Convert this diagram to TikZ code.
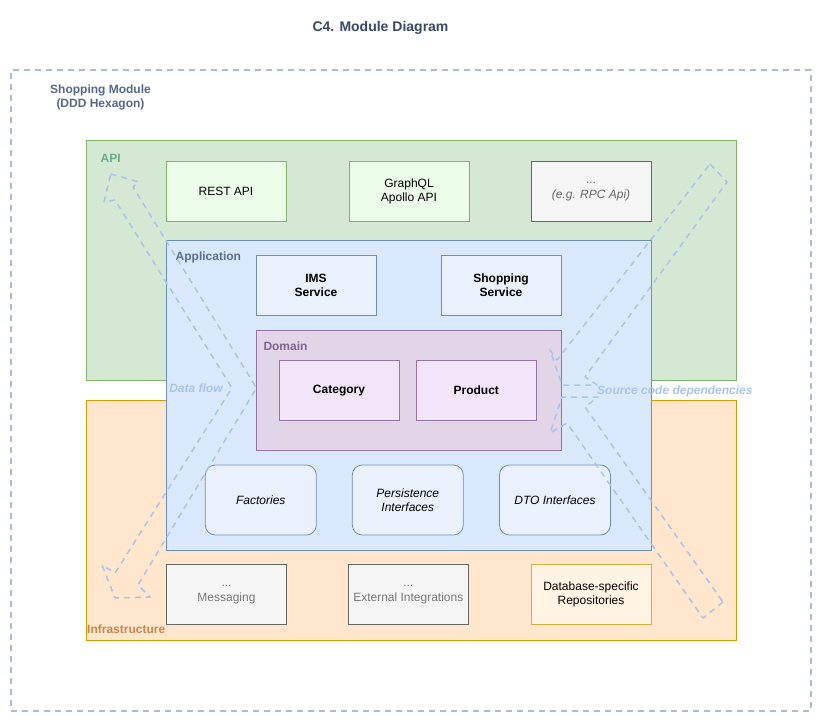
\documentclass[tikz,border=0pt]{standalone}
\usepackage{fontspec}
\setmainfont{Liberation Sans}
\definecolor{frameblue}{HTML}{AABBD8}
\definecolor{arrowblue}{HTML}{A9C4EB}
\definecolor{titlecol}{HTML}{3A4862}
\definecolor{modcol}{HTML}{56688A}
\definecolor{apifill}{HTML}{D5E8D4}
\definecolor{apistroke}{HTML}{82B366}
\definecolor{apilabel}{HTML}{6AAA8C}
\definecolor{infrafill}{HTML}{FFE6CC}
\definecolor{infrastroke}{HTML}{D79B00}
\definecolor{infralabel}{HTML}{C88750}
\definecolor{appfill}{HTML}{DAE8FC}
\definecolor{appstroke}{HTML}{6C8EBF}
\definecolor{applabel}{HTML}{5A6E96}
\definecolor{domfill}{HTML}{E1D5E7}
\definecolor{domstroke}{HTML}{9673A6}
\definecolor{domlabel}{HTML}{7D6491}
\definecolor{greenbox}{HTML}{EBFDE8}
\definecolor{bluebox}{HTML}{EAF1FD}
\definecolor{purplebox}{HTML}{F2E5F9}
\definecolor{graybox}{HTML}{F5F5F5}
\definecolor{graystroke}{HTML}{666666}
\definecolor{graytext}{HTML}{777777}
\definecolor{yellowbox}{HTML}{FFF3E4}
\definecolor{yellowstroke}{HTML}{D6AE3A}
\begin{document}
\begin{tikzpicture}[x=1pt,y=-1pt,
  every node/.style={font=\fontsize{12}{14.4}\selectfont, inner sep=0pt, align=center},
  container/.style={draw, line width=0.8pt, anchor=center},
  box/.style={draw, line width=0.8pt, minimum width=120pt, minimum height=60pt},
  apibox/.style={box, fill=greenbox, draw=apistroke},
  svcbox/.style={box, fill=bluebox, draw=appstroke, font=\fontsize{12}{14.4}\selectfont\bfseries},
  entbox/.style={box, fill=purplebox, draw=domstroke, font=\fontsize{12}{14.4}\selectfont\bfseries},
  ifbox/.style={draw=appstroke, fill=bluebox, line width=0.8pt, rounded corners=10pt, minimum width=111pt, minimum height=70pt, font=\fontsize{12}{14.4}\selectfont\itshape},
  grbox/.style={box, fill=graybox, draw=graystroke, text=graytext},
  lbl/.style={anchor=west, font=\fontsize{12}{14.4}\selectfont\bfseries},
  flow/.style={draw=arrowblue, line width=1.5pt, dash pattern=on 6pt off 5pt, line join=round},
  flowlbl/.style={text=arrowblue, font=\fontsize{12}{14.4}\selectfont\bfseries\itshape}
]
\useasboundingbox (0,0) rectangle (822,722);
\fill[white] (0,0) rectangle (822,722);

% title and module frame
\node[font=\fontsize{14}{16}\selectfont\bfseries, text=titlecol] (title) at (380.5,28) {C4. Module Diagram};
\node[draw=frameblue, line width=1.5pt, dash pattern=on 6pt off 5pt, minimum width=800pt, minimum height=641pt] (frame) at (411,390.5) {};
\node[font=\fontsize{12}{14.4}\selectfont\bfseries, text=modcol] (modlbl) at (100.5,97.5) {Shopping Module\\(DDD Hexagon)};

% layers
\node[container, fill=apifill, draw=apistroke, minimum width=650pt, minimum height=240pt] (api) at (411,260) {};
\node[container, fill=infrafill, draw=infrastroke, minimum width=650pt, minimum height=240pt] (infra) at (411,520) {};
\node[container, fill=appfill, draw=appstroke, minimum width=485pt, minimum height=310pt] (app) at (408.5,395) {};
\node[container, fill=domfill, draw=domstroke, minimum width=305pt, minimum height=120pt] (domain) at (408.5,390) {};

\node[lbl, text=apilabel] (apilbl) at (100.5,158.7) {API};
\node[lbl, text=infralabel] (infralbl) at (87,629.5) {Infrastructure};
\node[lbl, text=applabel] (applbl) at (175.5,257.5) {Application};
\node[lbl, text=domlabel] (domlbl) at (263.3,346) {Domain};

% API boxes
\node[apibox] (rest) at (226,191.5) {REST API};
\node[apibox] (graphql) at (409,191.5) {GraphQL\\Apollo API};
\node[grbox, text=graystroke] (rpc) at (591,191.5) {...\\\textit{(e.g. RPC Api)}};

% application services
\node[svcbox] (ims) at (316,285.3) {IMS\\Service};
\node[svcbox] (shop) at (501,285.3) {Shopping\\Service};

% domain entities
\node[entbox] (cat) at (339,390.3) {Category};
\node[entbox] (prod) at (476.3,390.3) {Product};

% interfaces
\node[ifbox] (fact) at (260.8,500) {Factories};
\node[ifbox] (pers) at (407.8,500) {Persistence\\Interfaces};
\node[ifbox] (dto) at (555,500) {DTO Interfaces};

% infrastructure boxes
\node[grbox] (msg) at (226.5,594.5) {...\\Messaging};
\node[grbox] (ext) at (408.3,594.5) {...\\External Integrations};
\node[box, fill=yellowbox, draw=yellowstroke] (db) at (591,594.5) {Database-specific\\Repositories};

% data flow arrow (double headed, bent towards the domain)
\draw[flow] (110.7,174) -- (138.3,181.7) -- (133,187) -- (256.5,388) -- (138,585)
  -- (150,597) -- (115,598) -- (102,565) -- (115,573) -- (232,388) -- (115,200)
  -- (104,202) -- cycle;
\node[flowlbl] (dflbl) at (196,388) {Data flow};

% source code dependency arrows (pointing inwards to the domain)
\draw[flow] (710,164) -- (727,182) -- (585,377) -- (597,385) -- (562,385)
  -- (550,350) -- (557,360) -- cycle;
\draw[flow] (723,602) -- (703,618) -- (567,423) -- (550,433) -- (562,397)
  -- (598,397) -- (585,407) -- cycle;
\node[flowlbl, anchor=west] (sclbl) at (597,391) {Source code dependencies};
\end{tikzpicture}
\end{document}
